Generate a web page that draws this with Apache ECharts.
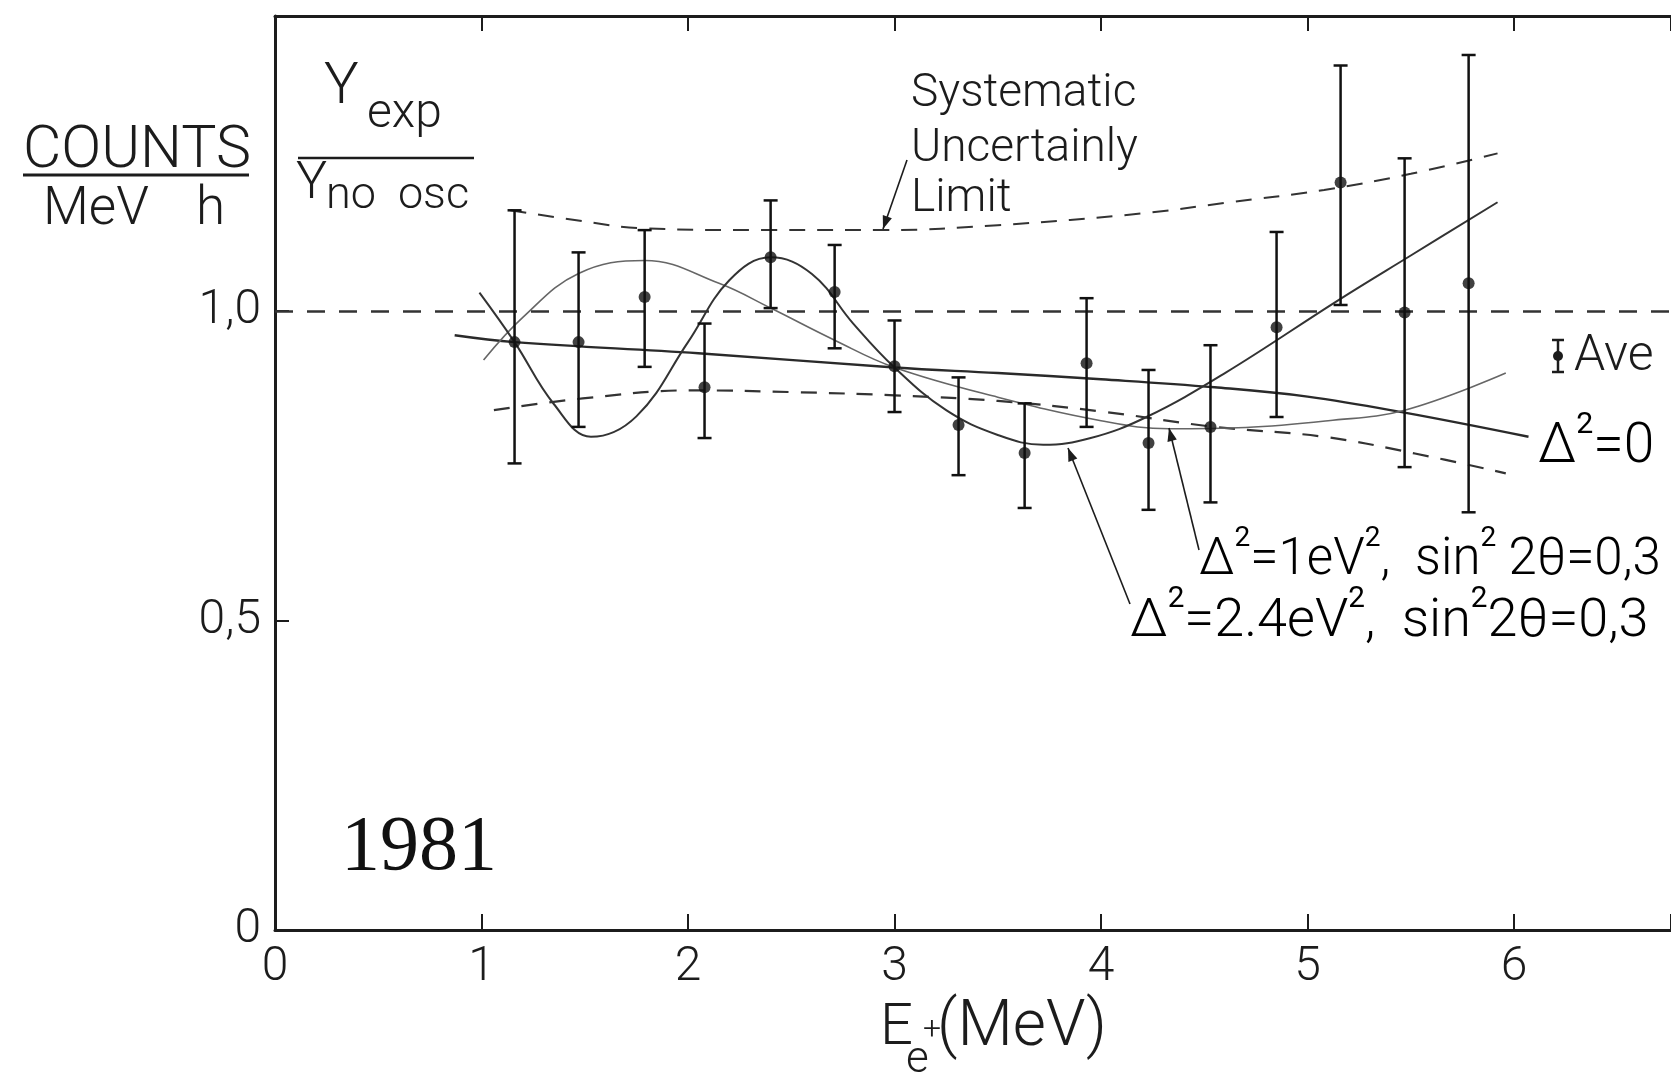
<!DOCTYPE html>
<html>
<head>
<meta charset="utf-8">
<title>Y exp / Y no osc, 1981</title>
<script src="https://cdn.jsdelivr.net/npm/echarts@6.0.0/dist/echarts.min.js"></script>
<style>
html, body { margin: 0; padding: 0; background: #fff; }
#container { width: 1671px; height: 1080px; }
</style>
</head>
<body>
<div id="container"></div>
<script>

// measured points (E in MeV, ratio Yexp/Yno osc) with error bar ends
var energy = [1.16, 1.47, 1.79, 2.08, 2.40, 2.71, 3.00, 3.31, 3.63, 3.93, 4.23, 4.53, 4.85, 5.16, 5.47, 5.78];
var ratio  = [0.950, 0.950, 1.023, 0.877, 1.087, 1.031, 0.911, 0.816, 0.771, 0.916, 0.787, 0.813, 0.974, 1.208, 0.998, 1.045];
var errTop = [1.163, 1.095, 1.131, 0.980, 1.179, 1.107, 0.985, 0.893, 0.851, 1.021, 0.905, 0.945, 1.128, 1.397, 1.247, 1.414];
var errBot = [0.754, 0.813, 0.910, 0.795, 1.005, 0.940, 0.837, 0.735, 0.682, 0.813, 0.679, 0.691, 0.829, 1.010, 0.748, 0.675];

// curves
var noOscX = [0.87, 1.16, 2.05, 3.0, 3.5, 4.0, 4.55, 5.0, 5.47, 6.07];
var noOscY = [0.961, 0.950, 0.932, 0.909, 0.900, 0.890, 0.877, 0.862, 0.836, 0.797];

var osc1X = [1.01, 1.2, 1.47, 1.79, 2.15, 2.4, 2.71, 3.0, 3.5, 4.0, 4.33, 4.7, 5.1, 5.47, 5.96];
var osc1Y = [0.921, 0.99, 1.061, 1.082, 1.045, 1.005, 0.953, 0.909, 0.861, 0.823, 0.81, 0.812, 0.823, 0.84, 0.9];

var osc24X = [0.99, 1.16, 1.35, 1.53, 1.75, 2.0, 2.2, 2.4, 2.6, 2.8, 3.0, 3.25, 3.5, 3.72, 3.95, 4.22, 4.6, 5.15, 5.5, 5.92];
var osc24Y = [1.03, 0.95, 0.85, 0.797, 0.83, 0.95, 1.05, 1.087, 1.06, 0.98, 0.909, 0.84, 0.80, 0.784, 0.795, 0.829, 0.9, 1.018, 1.09, 1.176];

var sysUpX = [1.14, 1.5, 1.77, 2.36, 2.95, 3.5, 4.2, 4.6, 5.08, 5.5, 5.92];
var sysUpY = [1.163, 1.145, 1.134, 1.131, 1.131, 1.139, 1.158, 1.175, 1.196, 1.222, 1.255];

var sysLoX = [1.06, 1.49, 2.01, 2.53, 3.0, 3.5, 4.0, 4.55, 5.08, 5.52, 5.96];
var sysLoY = [0.84, 0.859, 0.872, 0.869, 0.864, 0.855, 0.838, 0.813, 0.797, 0.77, 0.738];

var xTickLabels = {0: '0', 1: '1', 2: '2', 3: '3', 4: '4', 5: '5', 6: '6'};
var yTickLabels = {0: '0', 0.5: '0,5', 1: '1,0'};

var ink = '#1c1c1c';
var font = 'Roboto, "Liberation Sans", sans-serif';

var dom = document.getElementById('container');
var myChart = echarts.init(dom);

var zip = function (xs, ys) {
    var out = [];
    for (var i = 0; i < xs.length; i++) out.push([xs[i], ys[i]]);
    return out;
};

var barData = [];
for (var i = 0; i < energy.length; i++) {
    barData.push([energy[i], errBot[i], errTop[i]]);
}

var txt = function (x, y, text, size, extra) {
    var st = {
        text: text, x: x, y: y,
        fontSize: size, fontFamily: font, fontWeight: 300,
        fill: ink, align: 'left', verticalAlign: 'middle'
    };
    for (var k in extra) st[k] = extra[k];
    return { type: 'text', z: 50, style: st };
};

var seg = function (x1, y1, x2, y2, w) {
    return { type: 'line', z: 50, shape: { x1: x1, y1: y1, x2: x2, y2: y2 },
             style: { stroke: ink, lineWidth: w || 2 } };
};

// leader line with an arrow head at the end (x2, y2)
var arrow = function (x1, y1, x2, y2) {
    var a = Math.atan2(y2 - y1, x2 - x1);
    var L = 14, s = 0.35;
    return [
        seg(x1, y1, x2, y2, 1.6),
        { type: 'polygon', z: 50, shape: { points: [
            [x2, y2],
            [x2 - L * Math.cos(a - s), y2 - L * Math.sin(a - s)],
            [x2 - L * Math.cos(a + s), y2 - L * Math.sin(a + s)]
        ] }, style: { fill: ink } }
    ];
};

var supRich = function (size) {
    return {
        n: { fontSize: size, fontFamily: font, fontWeight: 300, color: ink, lineHeight: size * 1.2, verticalAlign: 'bottom' },
        s: { fontSize: size * 0.55, fontFamily: font, fontWeight: 400, color: ink, lineHeight: size * 1.2, verticalAlign: 'top' }
    };
};

var graphics = [
    // COUNTS / MeV h
    txt(23, 152, 'COUNTS', 59),
    seg(23, 175, 249, 175, 3),
    txt(43, 211, 'MeV', 53),
    txt(196, 211, 'h', 53),
    // Y exp / Y no osc
    txt(324, 88, 'Y', 58),
    txt(367, 115, 'exp', 48),
    seg(298, 158, 474, 158, 2.5),
    txt(296, 185, 'Y', 52),
    txt(326, 197, 'no  osc', 45),
    // Systematic uncertainty label
    txt(911, 94, 'Systematic', 46),
    txt(911, 149, 'Uncertainly', 46),
    txt(911, 199, 'Limit', 46),
    // year
    { type: 'text', z: 50, style: { text: '1981', x: 341, y: 849, fontSize: 78,
        fontFamily: '"Liberation Serif", "DejaVu Serif", serif', fill: '#111',
        align: 'left', verticalAlign: 'middle' } },
    // Ave legend
    seg(1558, 340, 1558, 372, 2.5),
    seg(1552, 340, 1564, 340, 2.5),
    seg(1552, 372, 1564, 372, 2.5),
    { type: 'circle', z: 50, shape: { cx: 1558, cy: 356, r: 5 }, style: { fill: ink } },
    txt(1574, 357, 'Ave', 50),
    // curve labels
    { type: 'text', z: 50, style: { x: 1538, y: 443, verticalAlign: 'middle', align: 'left',
        text: '{n|\u0394}{s|2}{n|=0}', rich: supRich(55) } },
    { type: 'text', z: 50, style: { x: 1199, y: 556, verticalAlign: 'middle', align: 'left',
        text: '{n|\u0394}{s|2}{n|=1eV}{s|2}{n|,  sin}{s|2}{n| 2\u03b8=0,3}', rich: supRich(51) } },
    { type: 'text', z: 50, style: { x: 1130, y: 617, verticalAlign: 'middle', align: 'left',
        text: '{n|\u0394}{s|2}{n|=2.4eV}{s|2}{n|,  sin}{s|2}{n|2\u03b8=0,3}', rich: supRich(54) } },
    // axis name
    txt(880, 1029, 'E', 58),
    txt(906, 1061, 'e', 44),
    txt(923, 1031, '+', 32),
    txt(937, 1029, '(MeV)', 64)
];
graphics = graphics.concat(
    arrow(907, 160, 883, 229),
    arrow(1199, 550, 1169, 428),
    arrow(1130, 604, 1068, 448)
);

var curve = function (name, xs, ys, dashed, color, width) {
    return {
        name: name, type: 'line', data: zip(xs, ys), smooth: 0.4,
        symbol: 'none', silent: true, z: 3,
        lineStyle: { color: color, width: width, type: dashed ? [16, 12] : 'solid' }
    };
};

option = {
    backgroundColor: '#ffffff',
    animation: false,
    grid: { left: 275, right: 0, top: 16, bottom: 150, containLabel: false, outerBoundsMode: 'none' },
    xAxis: [
        {
            type: 'value', min: 0, max: 6.76, interval: 1, position: 'bottom',
            axisLine: { show: true, lineStyle: { color: ink, width: 3 } },
            axisTick: { show: true, inside: true, length: 16, lineStyle: { color: ink, width: 2 } },
            axisLabel: {
                margin: 14, fontSize: 48, fontFamily: font, fontWeight: 300, color: ink,
                formatter: function (v) { return xTickLabels[v] !== undefined ? xTickLabels[v] : ''; }
            },
            splitLine: { show: false }
        },
        {
            type: 'value', min: 0, max: 6.76, interval: 1, position: 'top',
            axisLine: { show: true, onZero: false, lineStyle: { color: ink, width: 3 } },
            axisTick: { show: true, inside: true, length: 15, lineStyle: { color: ink, width: 2 } },
            axisLabel: { show: false },
            splitLine: { show: false }
        }
    ],
    yAxis: {
        type: 'value', min: 0, max: 1.477, interval: 0.5,
        axisLine: { show: true, lineStyle: { color: ink, width: 3 } },
        axisTick: { show: true, inside: true, length: 14, lineStyle: { color: ink, width: 2 } },
        axisLabel: {
            margin: 14, fontSize: 48, fontFamily: font, fontWeight: 300, color: ink,
            formatter: function (v) { return yTickLabels[v] !== undefined ? yTickLabels[v] : ''; }
        },
        splitLine: { show: false }
    },
    series: [
        {
            name: 'reference', type: 'line', data: [], silent: true,
            markLine: {
                silent: true, symbol: 'none', label: { show: false },
                lineStyle: { color: '#333', width: 2.5, type: [18, 14] },
                data: [{ yAxis: 1 }]
            }
        },
        curve('sys upper', sysUpX, sysUpY, true, '#333', 2),
        curve('sys lower', sysLoX, sysLoY, true, '#333', 2.2),
        curve('delta0', noOscX, noOscY, false, '#2a2a2a', 2.4),
        curve('1 eV2', osc1X, osc1Y, false, '#666', 1.6),
        curve('2.4 eV2', osc24X, osc24Y, false, '#333', 2),
        {
            name: 'errors', type: 'custom', data: barData, z: 5, silent: true,
            renderItem: function (params, api) {
                var top = api.coord([api.value(0), api.value(2)]);
                var bot = api.coord([api.value(0), api.value(1)]);
                var w = 7;
                var st = { stroke: '#111', lineWidth: 2.5 };
                return { type: 'group', children: [
                    { type: 'line', shape: { x1: top[0], y1: top[1], x2: bot[0], y2: bot[1] }, style: st },
                    { type: 'line', shape: { x1: top[0] - w, y1: top[1], x2: top[0] + w, y2: top[1] }, style: st },
                    { type: 'line', shape: { x1: bot[0] - w, y1: bot[1], x2: bot[0] + w, y2: bot[1] }, style: st }
                ] };
            }
        },
        {
            name: 'data', type: 'scatter', data: zip(energy, ratio), z: 6, silent: true,
            symbol: 'circle', symbolSize: 12, itemStyle: { color: '#111' }
        }
    ],
    graphic: graphics
};

myChart.setOption(option, true);

</script>
</body>
</html>
